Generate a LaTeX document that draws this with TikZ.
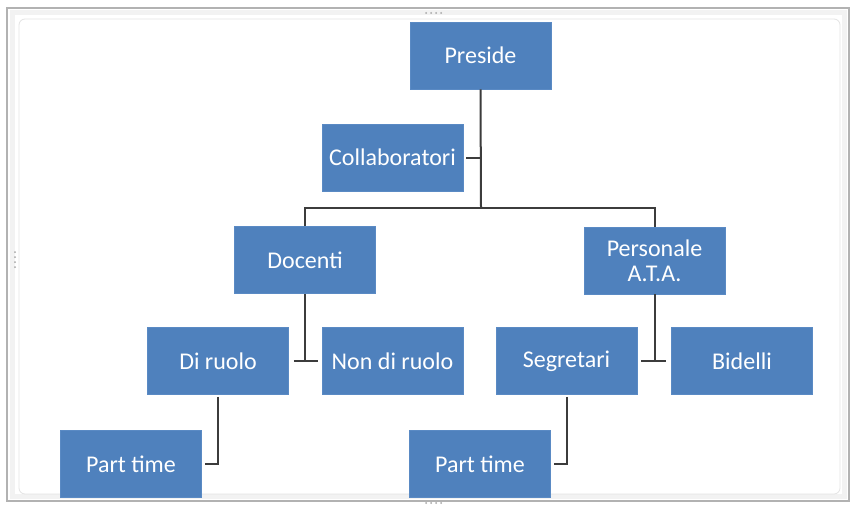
\documentclass[tikz,border=0pt]{standalone}
\usepackage{fontspec}
\setmainfont{Carlito}
\begin{document}
\begin{tikzpicture}[x=1pt,y=-1pt,
  orgbox/.style={rectangle, fill=boxblue, draw=boxedge, line width=0.6pt,
    minimum width=141pt, minimum height=67pt, inner sep=2pt,
    text=white, align=center, font=\fontsize{24}{25}\selectfont},
  link/.style={draw=linegrey, line width=2pt},
  framedots/.style={fill=gray!70, circle, inner sep=0pt, minimum size=2pt}]
\definecolor{boxblue}{HTML}{4F81BD}
\definecolor{boxedge}{HTML}{5A8AC4}
\definecolor{linegrey}{HTML}{3C3C3C}
% canvas and frame
\fill[white] (0,0) rectangle (853,508);
\useasboundingbox (0,0) rectangle (853,508);
\draw[gray!60, line width=1.5pt] (7,8) rectangle (849,501);
\draw[gray!10, line width=5pt] (12,13) rectangle (844,496);
\draw[gray!22, line width=0.8pt, rounded corners=6pt] (19,19) rectangle (840,494);
\foreach \i in {0,1,2,3} {
  \node[framedots] (td\i) at (426+\i*5,13) {};
  \node[framedots] (bd\i) at (426+\i*5,503) {};
  \node[framedots] (ld\i) at (15,252+\i*5) {};
}
% boxes
\node[orgbox] (pres) at (480.5,55.5) {Preside};
\node[orgbox] (coll) at (392.5,157.5) {Collaboratori};
\node[orgbox] (doc) at (305,260) {Docenti};
\node[orgbox] (pers) at (654.5,260.5) {Personale\\A.T.A.};
\node[orgbox] (diru) at (218,361) {Di ruolo};
\node[orgbox] (nondi) at (392.5,361) {Non di ruolo};
\node[orgbox] (segr) at (566.5,361) {Segretari};
\node[orgbox] (bid) at (742,361) {Bidelli};
\node[orgbox] (ptone) at (131,464) {Part time};
\node[orgbox] (pttwo) at (480,464) {Part time};
% connectors
\coordinate (bar) at (481,208);
\draw[link] (pres.south) -- (bar);
\draw[link, shorten <=3pt] (coll.east) -- (coll.east -| bar);
\draw[link] (doc.north) |- (bar) -| (pers.north);
\draw[link] (doc.south) -- (doc.south |- diru.east);
\draw[link, shorten <=5pt, shorten >=4pt] (diru.east) -- (nondi.west);
\draw[link] (pers.south) -- (pers.south |- segr.east);
\draw[link, shorten <=4pt, shorten >=5pt] (segr.east) -- (bid.west);
\draw[link, shorten <=2pt] (diru.south) |- ([xshift=3pt]ptone.east);
\draw[link, shorten <=2pt] (segr.south) |- ([xshift=3pt]pttwo.east);
\end{tikzpicture}
\end{document}
